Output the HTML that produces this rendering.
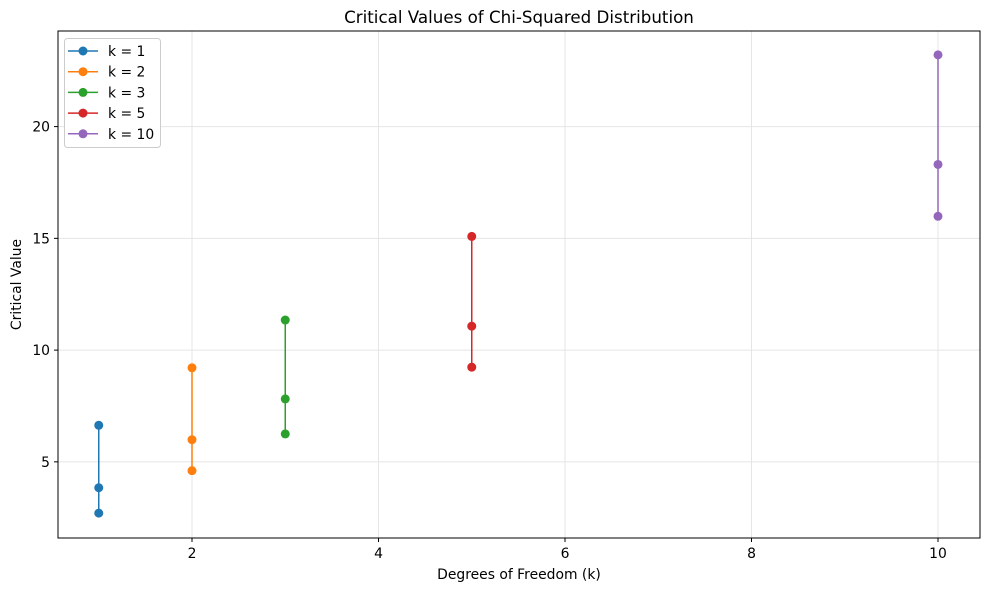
<!DOCTYPE html>
<html><head><meta charset="utf-8"><style>
body{margin:0;background:#fff;font-family:"DejaVu Sans","Liberation Sans",sans-serif;}
</style></head><body>
<svg id="chart" width="989" height="590" xmlns="http://www.w3.org/2000/svg" font-family="DejaVu Sans, Liberation Sans, sans-serif"></svg>
<script>
const categories=[1,2,3,5,10];
const seriesLabels=["k = 1","k = 2","k = 3","k = 5","k = 10"];
const alpha10=[2.706,4.605,6.251,9.236,15.987];
const alpha05=[3.841,5.991,7.815,11.070,18.307];
const alpha01=[6.635,9.210,11.345,15.086,23.209];
const xTicks=[2,4,6,8,10];
const yTicks=[5,10,15,20];
const colors=["#1f77b4","#ff7f0e","#2ca02c","#d62728","#9467bd"];
const NS="http://www.w3.org/2000/svg";
const svg=document.getElementById('chart');
const L=58,R=980,T=31,B=538;
const xs=v=>5.5+v*93.25;
const ys=v=>573.6-v*22.35;
function mk(tag,attrs,parent){const e=document.createElementNS(NS,tag);for(const k in attrs)e.setAttribute(k,attrs[k]);(parent||svg).appendChild(e);return e;}
xTicks.forEach(t=>{const l=mk('line',{x1:xs(t),x2:xs(t),y1:T,y2:B,stroke:'#e5e5e5','stroke-width':1});

});
yTicks.forEach(t=>{const l=mk('line',{x1:L,x2:R,y1:ys(t),y2:ys(t),stroke:'#e5e5e5','stroke-width':1});

});
categories.forEach((c,i)=>{
 const g=mk('g',{});
 
 
 const vals=[alpha10[i],alpha05[i],alpha01[i]];
 mk('line',{x1:xs(c),x2:xs(c),y1:ys(Math.min(...vals)),y2:ys(Math.max(...vals)),stroke:colors[i],'stroke-width':1.5},g);
 vals.forEach(v=>{const p=mk('circle',{cx:xs(c),cy:ys(v),r:4.5,fill:colors[i]},g);
 
 });
});
const fr=mk('rect',{x:L,y:T,width:R-L,height:B-T,fill:'none',stroke:'#000','stroke-width':1});


xTicks.forEach(t=>{mk('line',{x1:xs(t),x2:xs(t),y1:B,y2:B+4,stroke:'#000'});
const tx=mk('text',{x:xs(t),y:558,'text-anchor':'middle','font-size':13.9});tx.textContent=t;

});
yTicks.forEach(t=>{mk('line',{x1:L-4,x2:L,y1:ys(t),y2:ys(t),stroke:'#000'});
const tx=mk('text',{x:L-8,y:ys(t)+5,'text-anchor':'end','font-size':13.9});tx.textContent=t;

});
const title=mk('text',{x:(L+R)/2,y:23,'text-anchor':'middle','font-size':16.7});title.textContent='Critical Values of Chi-Squared Distribution';


const xl=mk('text',{x:(L+R)/2,y:579,'text-anchor':'middle','font-size':13.9});xl.textContent='Degrees of Freedom (k)';


const yl=mk('text',{x:21,y:(T+B)/2,'text-anchor':'middle','font-size':13.9,transform:`rotate(-90 21 ${(T+B)/2})`});yl.textContent='Critical Value';


const lg=mk('g',{});


mk('rect',{x:64.5,y:38.5,width:96,height:109,rx:3,fill:'#fff',stroke:'#ccc'},lg);
seriesLabels.forEach((s,i)=>{const y=51+i*20.7;
 const e=mk('g',{},lg);
 
 
 mk('line',{x1:68,x2:98,y1:y,y2:y,stroke:colors[i],'stroke-width':1.5},e);
 mk('circle',{cx:83,cy:y,r:4.5,fill:colors[i]},e);
 const t=mk('text',{x:108,y:y+5,'font-size':13.9},e);t.textContent=s;});
</script>
</body></html>
